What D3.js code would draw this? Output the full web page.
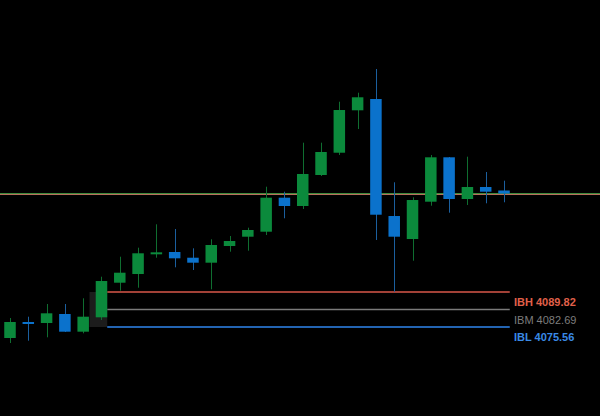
<!DOCTYPE html>
<html><head><meta charset="utf-8">
<script src="https://cdn.jsdelivr.net/npm/d3@7/dist/d3.min.js"></script>
<style>html,body{margin:0;padding:0;background:#000;}svg{display:block;}</style>
</head><body>
<svg id="chart" width="600" height="416"></svg>
<script>
const opens  = [4071.08,4077.60,4077.19,4080.86,4073.65,4079.51,4093.61,4097.15,4105.18,4106.12,4103.79,4101.76,4108.56,4112.35,4114.39,4128.24,4124.86,4137.49,4146.57,4163.85,4168.45,4120.78,4111.41,4126.61,4144.70,4127.71,4132.60,4131.17];
const highs  = [4079.23,4079.76,4084.93,4084.93,4087.25,4096.05,4104.20,4107.87,4117.40,4115.49,4107.62,4111.29,4112.64,4116.02,4132.72,4130.69,4150.65,4150.65,4167.35,4171.02,4180.68,4134.52,4128.40,4145.64,4144.82,4144.95,4138.71,4135.17];
const lows   = [4069.04,4069.98,4071.36,4073.52,4072.99,4078.41,4090.35,4091.57,4103.79,4099.88,4098.78,4090.92,4106.24,4106.65,4113.04,4119.85,4123.64,4137.08,4145.64,4156.23,4111.01,4089.94,4102.57,4124.98,4122.13,4125.27,4125.96,4126.37];
const closes = [4077.60,4077.19,4081.14,4073.65,4079.76,4094.30,4097.68,4105.59,4105.99,4103.55,4101.76,4108.97,4110.60,4115.08,4128.24,4124.86,4137.90,4146.86,4163.97,4169.15,4121.31,4112.35,4127.30,4144.70,4127.71,4132.60,4130.69,4129.95];
const ibLabels = ["IBH","IBM","IBL"];
const ibValues = [4089.82,4082.69,4075.56];
const refLevels = [4130.16,4129.75];

const W = 600, H = 416;
const svg = d3.select("#chart");
svg.append("rect").attr("width",W).attr("height",H).attr("fill","#000");

const x = d3.scaleLinear().domain([0,27]).range([10,504]);
const y = d3.scaleLinear().domain([4039.30,4208.79]).range([H,0]);
const bw = 11.5;

const data = opens.map((o,i)=>({i,o,h:highs[i],l:lows[i],c:closes[i]}));
const upBody="#0b8a3c", upWick="#0f6e30", dnBody="#0b72cc", dnWick="#1b5f9e";

// initial balance shaded box
svg.append("rect")
  .attr("x", x(5)-12).attr("width", (x(5)+bw/2) - (x(5)-12))
  .attr("y", y(ibValues[0])).attr("height", y(ibValues[2]) - y(ibValues[0]))
  .attr("fill","#1c1c1c");

// reference levels
const refColors = ["#3f8a3c","#b8705c"];
svg.selectAll(".ref").data(refLevels).join("line")
  .attr("x1",0).attr("x2",W)
  .attr("y1",d=>Math.round(y(d))+0.5).attr("y2",d=>Math.round(y(d))+0.5)
  .attr("stroke",(d,i)=>refColors[i]).attr("stroke-width",1);

// IB lines
const ibLine = ["#d9574a","#7a7a7a","#2f86ee"];
const ibText = ["#e0604a","#7d7d7d","#3a8ae6"];
svg.selectAll(".ib").data(ibValues).join("line")
  .attr("x1", x(5)+bw/2).attr("x2", x(27)+bw/2)
  .attr("y1",d=>y(d)).attr("y2",d=>y(d))
  .attr("stroke",(d,i)=>ibLine[i]).attr("stroke-width",1.5);
svg.selectAll(".ibt").data(ibValues).join("text")
  .attr("x", 514).attr("y", d=>y(d)+14)
  .attr("fill",(d,i)=>ibText[i])
  .attr("font-family","Arial, 'Liberation Sans', sans-serif")
  .attr("font-size",11).attr("font-weight",(d,i)=>i===1?"normal":"bold")
  .text((d,i)=>ibLabels[i]+" "+d.toFixed(2));

// wicks
svg.selectAll(".wick").data(data).join("line")
  .attr("x1",d=>Math.round(x(d.i))+0.5).attr("x2",d=>Math.round(x(d.i))+0.5)
  .attr("y1",d=>y(d.h)).attr("y2",d=>y(d.l))
  .attr("stroke",d=>d.c>=d.o?upWick:dnWick).attr("stroke-width",1);

// bodies
svg.selectAll(".body").data(data).join("rect")
  .attr("x",d=>x(d.i)-bw/2).attr("width",bw)
  .attr("y",d=>y(Math.max(d.o,d.c)))
  .attr("height",d=>Math.max(2,Math.abs(y(d.o)-y(d.c))))
  .attr("fill",d=>d.c>=d.o?upBody:dnBody);
</script>
</body></html>
